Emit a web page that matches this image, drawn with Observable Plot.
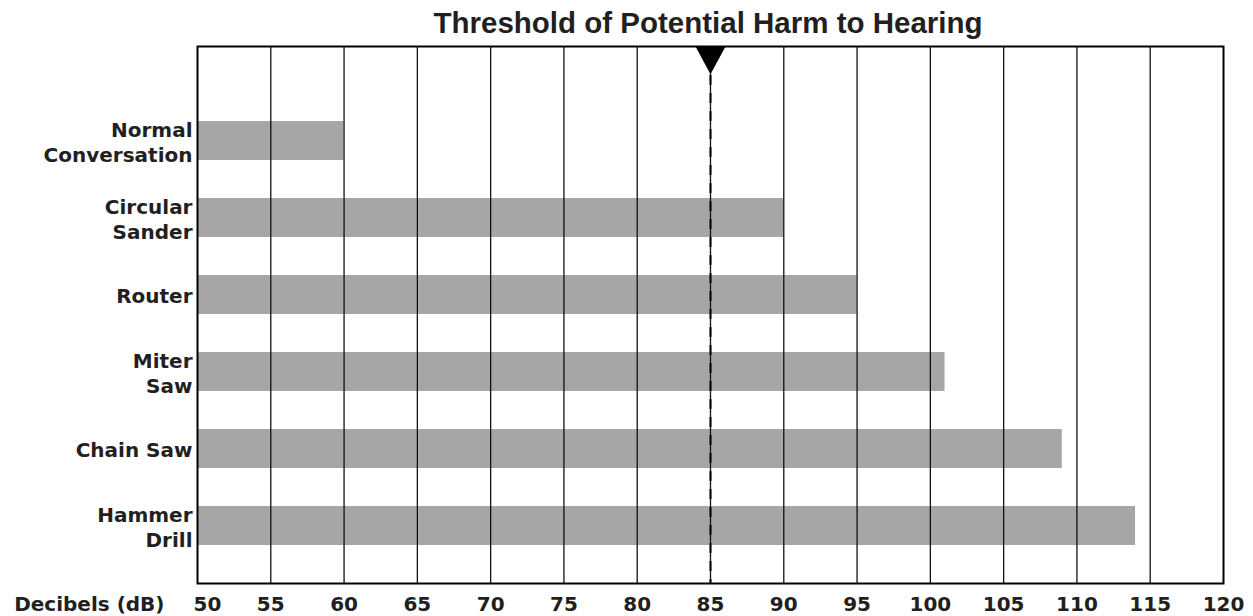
<!DOCTYPE html>
<html>
<head>
<meta charset="utf-8">
<script src="https://cdn.jsdelivr.net/npm/d3@7"></script>
<script src="https://cdn.jsdelivr.net/npm/@observablehq/plot@0.6"></script>
<style>
  html, body { margin: 0; padding: 0; background: #fff; }
  #chart svg { display: block; }
</style>
</head>
<body>
<div id="chart"></div>
<script>
// ---- data ----
const title = "Threshold of Potential Harm to Hearing";
const categories = ["Normal\nConversation", "Circular\nSander", "Router", "Miter\nSaw", "Chain Saw", "Hammer\nDrill"];
const decibels = [60, 90, 95, 101, 109, 114];
const xTicks = [50, 55, 60, 65, 70, 75, 80, 85, 90, 95, 100, 105, 110, 115, 120];
const gridTicks = [55, 60, 65, 70, 75, 80, 85, 90, 95, 100, 105, 110, 115];
const threshold = [85];
const xAxisTitle = "Decibels (dB)";

const rows = categories.map((c, i) => ({category: c, db: decibels[i]}));

const ink = "#231f20";
const labelFont = "DejaVu Sans";

const triangleDown = {
  draw(context, size) {
    const r = Math.sqrt(size / Math.PI);
    context.moveTo(-r, 0);
    context.lineTo(r, 0);
    context.lineTo(0, r * 1.85);
    context.closePath();
  }
};

const chart = Plot.plot({
  width: 1253,
  height: 616,
  marginLeft: 197,
  marginRight: 30,
  marginTop: 46,
  marginBottom: 33,
  style: {background: "#fff", color: ink, fontFamily: labelFont},
  x: {domain: [50, 120], axis: null},
  y: {type: "band", domain: categories, range: [101.5, 563.5], paddingInner: 0.5, paddingOuter: 0.25, axis: null},
  marks: [
    Plot.barX(rows, {y: "category", x1: 50, x2: "db", fill: "#a6a6a6"}),
    Plot.ruleX(gridTicks, {x: d => d, stroke: "#111", strokeWidth: 1.3}),
    Plot.ruleX(threshold, {x: d => d, stroke: "#000", strokeWidth: 2, strokeDasharray: "10,8", insetTop: 29}),
    Plot.frame({stroke: "#000", strokeWidth: 2}),
    Plot.dot(threshold, {x: d => d, frameAnchor: "top", symbol: triangleDown, r: 15, fill: "#000", stroke: "none"}),
    // y labels
    Plot.text(rows, {y: "category", text: "category", frameAnchor: "left", dx: -5, textAnchor: "end",
      lineAnchor: "middle", lineHeight: 1.25, fontSize: 20, fontWeight: "bold", fill: ink, fontFamily: labelFont}),
    // x tick labels
    Plot.text(xTicks.slice(1), {x: d => d, text: d => String(d), frameAnchor: "bottom", dy: 21.3,
      lineAnchor: "middle", fontSize: 20, fontWeight: "bold", fill: ink, fontFamily: labelFont}),
    Plot.text(xTicks.slice(0, 1), {x: d => d, text: d => String(d), frameAnchor: "bottom", dy: 21.3, dx: -4,
      textAnchor: "start", lineAnchor: "middle", fontSize: 20, fontWeight: "bold", fill: ink, fontFamily: labelFont}),
    Plot.text([xAxisTitle], {frameAnchor: "bottom-left", dx: -33, dy: 21.3, textAnchor: "end",
      lineAnchor: "middle", fontSize: 20, fontWeight: "bold", fill: ink, fontFamily: labelFont}),
    // title
    Plot.text([title], {frameAnchor: "top", dx: -2.5, dy: -23, lineAnchor: "middle",
      fontSize: 29.5, fontWeight: "bold", fill: ink, fontFamily: "Liberation Sans"})
  ]
});

document.getElementById("chart").append(chart);
</script>
</body>
</html>
